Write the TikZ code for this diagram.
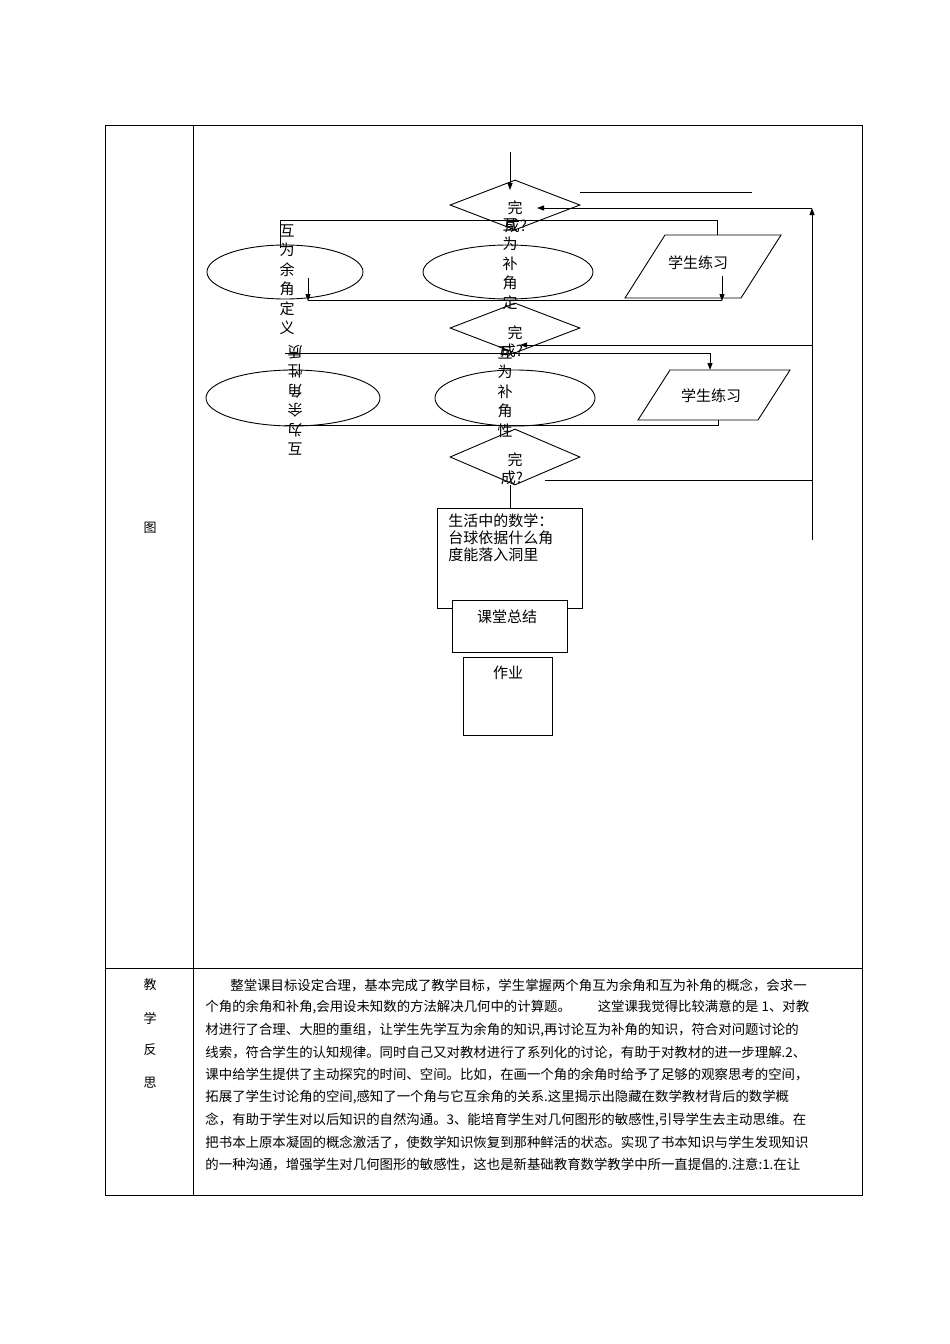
\documentclass[tikz,border=0pt]{standalone}
\usepackage{fontspec}
\setmainfont{Noto Sans CJK SC}
\usetikzlibrary{shapes.geometric,arrows.meta}
\begin{document}
\begin{tikzpicture}[x=1pt,y=-1pt,line width=0.9pt,
  arr/.style={-{Triangle[length=7pt,width=5pt]}},
  dia/.style={draw,diamond,minimum width=130pt,minimum height=50pt,inner sep=0pt},
  ell/.style={draw,ellipse,inner sep=0pt},
  fc/.style={font=\fontsize{15}{17}\selectfont},
  vt/.style={fc,align=center,anchor=north,inner sep=0pt,font=\fontsize{15}{19.5}\selectfont},
  pl/.style={anchor=west,inner sep=0pt,font=\fontsize{13.4}{15}\selectfont}]
\useasboundingbox (0,0) rectangle (950,1344);
% table
\draw[line width=1pt] (105,125) rectangle (862,1195);
\draw (193,125) -- (193,1195);
\draw (105,968) -- (862,968);
\node[font=\fontsize{13}{15}\selectfont] (tu) at (150,528) {图};
\foreach \c/\yy [count=\i] in {教/985,学/1018,反/1050,思/1083}
  \node[font=\fontsize{13}{15}\selectfont] (L\i) at (150,\yy) {\c};
% flowchart shapes
\node[dia] (d1) at (515,205) {};
\node[dia] (d2) at (515,328) {};
\node[dia,minimum height=56pt] (d3) at (515,457) {};
\node[ell,minimum width=156pt,minimum height=54pt] (e1) at (285,272) {};
\node[ell,minimum width=170pt,minimum height=54pt] (e2) at (508,272) {};
\node[ell,minimum width=174pt,minimum height=56pt] (e3) at (293,398) {};
\node[ell,minimum width=160pt,minimum height=56pt] (e4) at (515,398) {};
\draw (625,298) -- (665,235) -- (781,235) -- (741,298) -- cycle;
\node[fc] (p1) at (698,263) {学生练习};
\draw (638,420) -- (670,370) -- (790,370) -- (758,420) -- cycle;
\node[fc] (p2) at (711,396) {学生练习};
\node[draw,minimum width=145pt,minimum height=100pt] (b1) at (509.5,558) {};
\node[fc,align=left,anchor=north west,inner sep=0pt] (b1t) at (448,513) {生活中的数学：\\台球依据什么角\\度能落入洞里};
\node[draw,fill=white,minimum width=115pt,minimum height=52pt] (b2) at (509.5,626) {};
\node[fc] (b2t) at (507,617) {课堂总结};
\node[draw,minimum width=89pt,minimum height=78pt] (b3) at (507.5,696) {};
\node[fc] (b3t) at (508,673) {作业};
% lines
\coordinate (s0) at (510,152);
\draw[arr] (s0) -- (510,190);
\coordinate (h1) at (580,192); \coordinate (h2) at (752,192);
\draw (h1) -- (h2);
\coordinate (r0) at (812,540); \coordinate (r1) at (812,208);
\draw[arr] (r0) -- (r1);
\draw[arr] (r1) -- (537,208);
\draw[arr] (812,345) -- (520,345);
\coordinate (r2) at (545,480);
\draw (r2) -- (812,480);
% frame 1
\draw (280,248) -- (280,220) -- (717,220) -- (717,235);
\draw[arr] (308,278) -- (308,301);
\draw[arr] (722,276) -- (722,301);
\draw (308,300) -- (722,300);
% frame 2
\draw (285,353) -- (710,353);
\draw[arr] (710,353) -- (710,370);
\draw (285,425) -- (718,425) -- (718,420);
\draw (510,485) -- (510,508);
% texts in diamonds
\node[fc] (t1) at (515,208) {完};
\node[fc] (t1b) at (516,226) {成?};
\node[fc] (t2) at (515,333) {完};
\node[fc] (t2b) at (512,351) {成?};
\node[fc] (t3) at (515,460) {完};
\node[fc] (t3b) at (512,478) {成?};
\node[vt] (v1) at (287,224) {互\\为\\余\\角\\定\\义};
\node[vt] (v2) at (510,218) {互\\为\\补\\角\\定};
\node[vt,rotate=180] (v3) at (295,456) {互\\为\\余\\角\\性\\质};
\node[vt] (v4) at (505,346) {互\\为\\补\\角\\性};
% paragraph
\node[pl] (p01) at (230,985) {整堂课目标设定合理，基本完成了教学目标，学生掌握两个角互为余角和互为补角的概念，会求一};
\node[pl] (p02) at (205,1007.5) {个角的余角和补角,会用设未知数的方法解决几何中的计算题。\hspace{2em}这堂课我觉得比较满意的是 1、对教};
\node[pl] (p03) at (205,1030) {材进行了合理、大胆的重组，让学生先学互为余角的知识,再讨论互为补角的知识，符合对问题讨论的};
\node[pl] (p04) at (205,1052.5) {线索，符合学生的认知规律。同时自己又对教材进行了系列化的讨论，有助于对教材的进一步理解.2、};
\node[pl] (p05) at (205,1075) {课中给学生提供了主动探究的时间、空间。比如，在画一个角的余角时给予了足够的观察思考的空间，};
\node[pl] (p06) at (205,1097.5) {拓展了学生讨论角的空间,感知了一个角与它互余角的关系.这里揭示出隐藏在数学教材背后的数学概};
\node[pl] (p07) at (205,1120) {念，有助于学生对以后知识的自然沟通。3、能培育学生对几何图形的敏感性,引导学生去主动思维。在};
\node[pl] (p08) at (205,1142.5) {把书本上原本凝固的概念激活了，使数学知识恢复到那种鲜活的状态。实现了书本知识与学生发现知识};
\node[pl] (p09) at (205,1165) {的一种沟通，增强学生对几何图形的敏感性，这也是新基础教育数学教学中所一直提倡的.注意:1.在让};
\end{tikzpicture}
\end{document}
